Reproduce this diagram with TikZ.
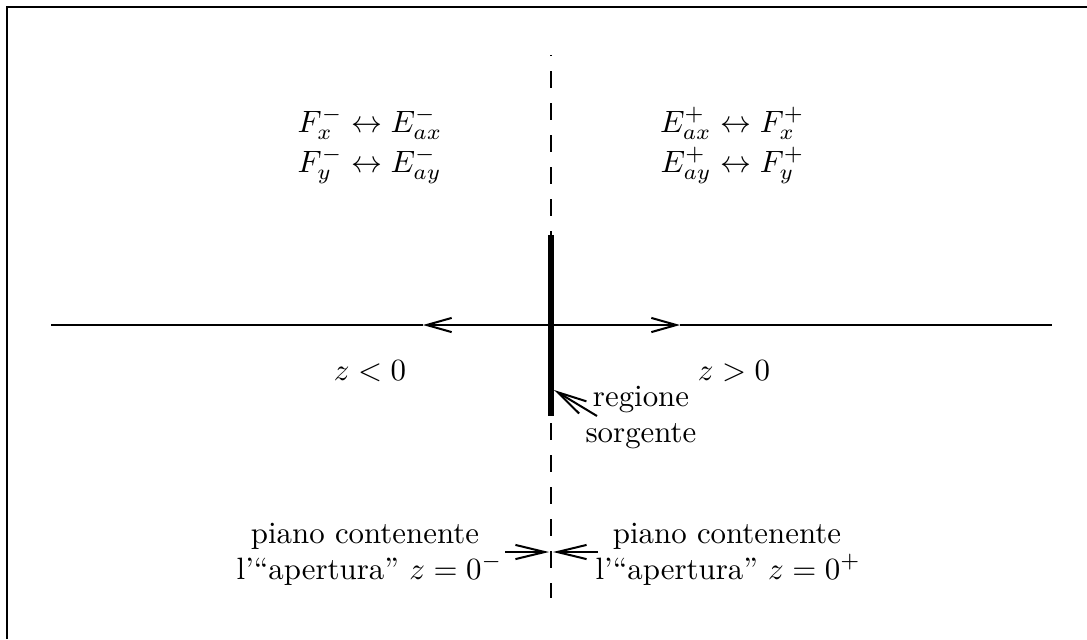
\documentclass[tikz,border=0pt]{standalone}
\usetikzlibrary{arrows.meta}
\begin{document}
\begin{tikzpicture}[x=0.324pt,y=-0.324pt,
  ln/.style={line width=0.65pt},
  tipa/.style={-{Straight Barb[length=8.1pt,width=4.6pt]}},
  tipb/.style={-{Straight Barb[length=9.5pt,width=4.6pt]}},
  lbl/.style={inner sep=0pt}]
\useasboundingbox (0,0) rectangle (1087,639);
% frame (only top and left edges are visible)
\draw[line width=0.95pt] (7,639) -- (7,7) -- (1087,7);
% coordinates
\coordinate (c) at (551,325);
\coordinate (la) at (423,325);
\coordinate (ra) at (680,325);
\coordinate (lend) at (51,325);
\coordinate (rend) at (1052,325);
\coordinate (dtop) at (551,55);
\coordinate (dbot) at (551,598);
\coordinate (btop) at (551,235);
\coordinate (bbot) at (551,416);
% dashed plane
\draw[ln, dash pattern=on 5.51pt off 4.86pt, dash phase=5.18pt] (dtop) -- (dbot);
% source region
\draw[line width=2pt] (btop) -- (bbot);
% z axis with arrows
\draw[ln, tipa] (c) -- (la);
\draw[ln] (la) -- (lend);
\draw[ln, tipa] (c) -- (ra);
\draw[ln] (ra) -- (rend);
% texts
\node[lbl, anchor=base west] (l1) at (297,132) {$F_x^- \leftrightarrow E_{ax}^-$};
\node[lbl, anchor=base west] (l2) at (297,172) {$F_y^- \leftrightarrow E_{ay}^-$};
\node[lbl, anchor=base east] (r1) at (805,132) {$E_{ax}^+ \leftrightarrow F_x^+$};
\node[lbl, anchor=base east] (r2) at (805,172) {$E_{ay}^+ \leftrightarrow F_y^+$};
\node[lbl, anchor=base] (zl) at (370,380) {$z<0$};
\node[lbl, anchor=base] (zr) at (734,380) {$z>0$};
\node[lbl, anchor=base] (reg) at (641,406) {regione};
\node[lbl, anchor=base] (sorg) at (641,442) {sorgente};
\node[lbl, anchor=base] (pl1) at (365,543) {piano contenente};
\node[lbl, anchor=base east] (pl2) at (503,579) {l'``apertura'' $z=0^-$};
\node[lbl, anchor=base] (pr1) at (727,543) {piano contenente};
\node[lbl, anchor=base west] (pr2) at (595,579) {l'``apertura'' $z=0^+$};
% regione arrow
\coordinate (rt) at (597,416);
\coordinate (rh) at (554,390);
\draw[ln, tipb] (rt) -- (rh);
% aperture arrows
\coordinate (al) at (505,552);
\coordinate (alh) at (549,552);
\coordinate (ar) at (598,552);
\coordinate (arh) at (553,552);
\draw[ln, tipb] (al) -- (alh);
\draw[ln, tipb] (ar) -- (arh);
\end{tikzpicture}
\end{document}
